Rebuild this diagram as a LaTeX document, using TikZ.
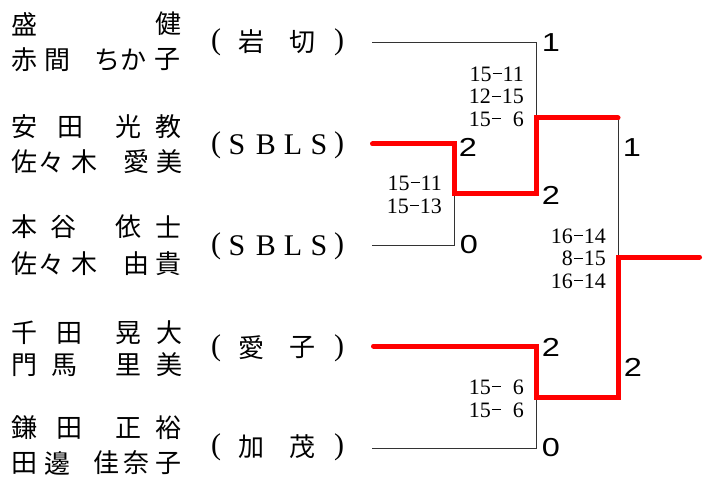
\documentclass[tikz,border=0pt]{standalone}
\usepackage{fontspec}
\setmainfont{Liberation Serif}
\newfontfamily\jpfont{Noto Sans CJK JP}
\newfontfamily\numfont{Liberation Sans}
\newcommand\dsh{\makebox[11pt]{\rule[7pt]{9pt}{1pt}}}
\newcommand\dg{\makebox[11pt]{}}
\newcommand\wnum[1]{\scalebox{1.25}[1]{#1}}
\newcommand\putrow[3]{%
  \foreach \xx/\cc [count=\i] in {#2} {\node[nm] (#3-\i) at (\xx,#1) {\cc};}}
\tikzset{
  nm/.style={font=\jpfont\fontsize{26}{26}\selectfont, inner sep=0pt, anchor=center},
  cl/.style={font=\fontsize{30}{30}\selectfont, inner sep=0pt, anchor=center},
  res/.style={font=\numfont\fontsize{26}{26}\selectfont, inner sep=0pt, anchor=center},
  score/.style={font=\fontsize{22}{22}\selectfont, inner sep=0pt, anchor=east},
  thinln/.style={draw=black!80, line width=0.9pt},
  winln/.style={draw=red, line width=5pt, line cap=round, line join=miter},
}
\begin{document}
\begin{tikzpicture}[x=1pt,y=-1pt]
\useasboundingbox[fill=white] (0,0) rectangle (714,481);
% names
\putrow{24}{25/盛,168/健}{r1a}
\putrow{60}{25/赤,57/間,107/ち,133/か,167/子}{r1b}
\putrow{127}{25/安,70/田,128/光,168/教}{r2a}
\putrow{162}{24/佐,51/々,84/木,136/愛,169/美}{r2b}
\putrow{227}{25/本,63/谷,128/依,168/士}{r3a}
\putrow{264}{24/佐,51/々,84/木,136/由,168/貴}{r3b}
\putrow{333}{24/千,69/田,128/晃,169/大}{r4a}
\putrow{365}{24/門,64/馬,128/里,169/美}{r4b}
\putrow{428}{25/鎌,69/田,128/正,168/裕}{r5a}
\putrow{463}{24/田,57/邊,106/佳,136/奈,168/子}{r5b}
% clubs
\node[cl] (c1l) at (216,42) {(};
\putrow{42}{251/岩,302/切}{c1}
\node[cl] (c1r) at (339,42) {)};
\foreach \yy/\nn in {145/c2,246/c3}{
  \node[cl] (\nn l) at (216,\yy) {(};
  \node[cl] (\nn s) at (237,\yy) {S};
  \node[cl] (\nn b) at (266,\yy) {B};
  \node[cl] (\nn m) at (293,\yy) {L};
  \node[cl] (\nn t) at (319,\yy) {S};
  \node[cl] (\nn r) at (339,\yy) {)};
}
\node[cl] (c4l) at (216,348) {(};
\putrow{348}{251/愛,302/子}{c4}
\node[cl] (c4r) at (339,348) {)};
\node[cl] (c5l) at (216,447) {(};
\putrow{447}{251/加,302/茂}{c5}
\node[cl] (c5r) at (339,447) {)};
% bracket corners
\coordinate (a1) at (372,42);  \coordinate (a2) at (536,42);
\coordinate (b1) at (372.5,144); \coordinate (b2) at (454,144);
\coordinate (m1) at (454,193); \coordinate (m2) at (536,193);
\coordinate (s1) at (536,118); \coordinate (s2) at (618,118);
\coordinate (d1) at (372,245); \coordinate (d2) at (454,245);
\coordinate (f1) at (618,257); \coordinate (f2) at (699.5,257);
\coordinate (n1) at (618,397); \coordinate (n2) at (536,397);
\coordinate (e1) at (536,346); \coordinate (e2) at (373.5,346);
\coordinate (g1) at (372,448); \coordinate (g2) at (536,448);
% thin lines
\draw[thinln] (a1) -- (a2) -- (s1);
\draw[thinln] (d1) -- (d2) -- (m1);
\draw[thinln] (s2) -- (f1);
\draw[thinln] (g1) -- (g2) -- (n2);
% winners
\draw[winln] (b1) -- (b2) -- (m1) -- (m2) -- (s1) -- (s2);
\draw[winln] (f2) -- (f1) -- (n1) -- (n2) -- (e1) -- (e2);
% results
\node[res] (w1) at (551,43) {\wnum{1}};
\node[res] (w2) at (468,147) {\wnum{2}};
\node[res] (w3) at (551,195) {\wnum{2}};
\node[res] (w4) at (469,245) {\wnum{0}};
\node[res] (w5) at (632,148) {\wnum{1}};
\node[res] (w6) at (551,347) {\wnum{2}};
\node[res] (w7) at (633,367) {\wnum{2}};
\node[res] (w8) at (551,448) {\wnum{0}};
% scores
\node[score] (s11) at (524,74) {15\dsh11};
\node[score] (s12) at (524,96.5) {12\dsh15};
\node[score] (s13) at (524,119) {15\dsh\dg6};
\node[score] (s21) at (442,183) {15\dsh11};
\node[score] (s22) at (442,206) {15\dsh13};
\node[score] (s31) at (606,236) {16\dsh14};
\node[score] (s32) at (606,258.5) {8\dsh15};
\node[score] (s33) at (606,281) {16\dsh14};
\node[score] (s41) at (524,387) {15\dsh\dg6};
\node[score] (s42) at (524,410) {15\dsh\dg6};
\end{tikzpicture}
\end{document}
